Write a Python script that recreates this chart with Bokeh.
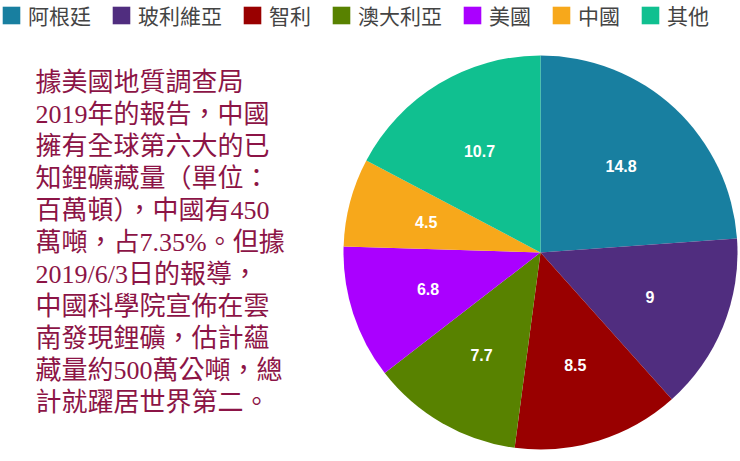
import math
from bokeh.plotting import figure
from bokeh.models import ColumnDataSource, Range1d
from bokeh.core.properties import value
from bokeh.embed import file_html
from bokeh.resources import INLINE

# ---- data ----
countries = ["阿根廷", "玻利維亞", "智利", "澳大利亞", "美國", "中國", "其他"]
reserves = [14.8, 9, 8.5, 7.7, 6.8, 4.5, 10.7]
colors = ["#187fa0", "#502d7f", "#990000", "#588200", "#aa00ff", "#f7a81b", "#10c090"]
note_lines = [
    "據美國地質調查局",
    "2019年的報告，中國",
    "擁有全球第六大的已",
    "知鋰礦藏量（單位：",
    "百萬頓），中國有450",
    "萬噸，占7.35%。但據",
    "2019/6/3日的報導，",
    "中國科學院宣佈在雲",
    "南發現鋰礦，估計蘊",
    "藏量約500萬公噸，總",
    "計就躍居世界第二。",
]

W, H = 740, 461
p = figure(width=W, height=H, output_backend="svg", toolbar_location=None,
           x_range=Range1d(0, W), y_range=Range1d(0, H),
           min_border=0, outline_line_color=None)
p.axis.visible = False
p.grid.visible = False
p.background_fill_color = "white"

# pie geometry (page pixel coordinates, y flipped)
cx, cy_page, R = 540, 252, 197
cy = H - cy_page
total = sum(reserves)
starts, ends, lx, ly, labels = [], [], [], [], []
cum = 0.0
for v in reserves:
    a0 = math.pi / 2 - 2 * math.pi * cum / total
    a1 = math.pi / 2 - 2 * math.pi * (cum + v) / total
    starts.append(a1)
    ends.append(a0)
    mid = (a0 + a1) / 2
    lx.append(cx + 0.6 * R * math.cos(mid))
    ly.append(cy + 0.6 * R * math.sin(mid))
    labels.append(f"{v:g}")
    cum += v

src = ColumnDataSource(dict(country=countries, value=reserves, color=colors,
                            start=starts, end=ends, lx=lx, ly=ly, label=labels))
p.wedge(x=cx, y=cy, radius=R, start_angle="start", end_angle="end",
        fill_color="color", line_color=None, legend_field="country", source=src)
p.text(x="lx", y="ly", text="label", source=src, text_color="white",
       text_font=value("Liberation Sans"), text_font_style="bold",
       text_font_size="16px", text_align="center", text_baseline="middle")

# note text
ny = [H - (82 + 32 * i) for i in range(len(note_lines))]
nsrc = ColumnDataSource(dict(x=[35] * len(note_lines), y=ny, t=note_lines))
p.text(x="x", y="y", text="t", source=nsrc, text_color="#8c1446",
       text_font=value("Liberation Serif, Noto Sans CJK TC"),
       text_font_size="26px", text_align="left", text_baseline="middle")

lg = p.legend[0]
lg.location = "top_left"
lg.orientation = "horizontal"
lg.margin = 0
lg.padding = 0
lg.spacing = 19
lg.glyph_width = 22
lg.glyph_height = 22
lg.label_standoff = 6
lg.label_text_font = "Noto Sans CJK TC"
lg.label_text_font_size = "21px"
lg.label_text_color = "#444444"
lg.border_line_color = None
lg.background_fill_alpha = 0

open("out.html", "w").write(file_html(p, INLINE))
